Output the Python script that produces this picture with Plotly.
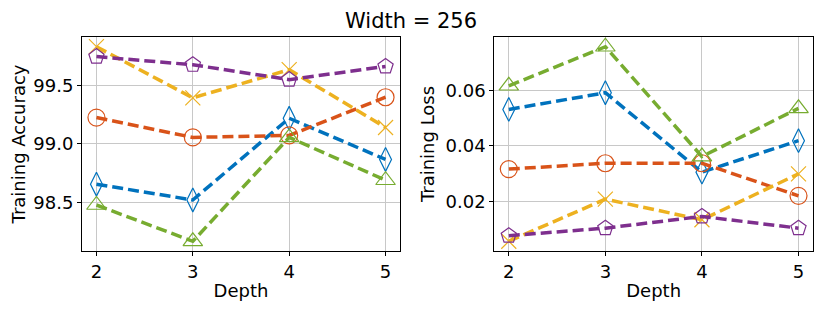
import plotly.graph_objects as go

depth = [2, 3, 4, 5]
series_names = ["blue", "orange", "yellow", "purple", "green"]
acc_blue = [98.655, 98.52, 99.22, 98.867]
acc_orange = [99.226, 99.056, 99.073, 99.40]
acc_yellow = [99.833, 99.395, 99.636, 99.141]
acc_purple = [99.748, 99.678, 99.551, 99.664]
acc_green = [98.477, 98.166, 99.056, 98.689]
loss_blue = [0.0531, 0.0591, 0.0306, 0.0419]
loss_orange = [0.0317, 0.0338, 0.0338, 0.0221]
loss_yellow = [0.0058, 0.0209, 0.0135, 0.0300]
loss_purple = [0.0078, 0.0105, 0.0147, 0.0105]
loss_green = [0.0616, 0.0756, 0.0362, 0.0535]
acc_ticks = [98.5, 99.0, 99.5]
acc_ticklabels = ["98.5", "99.0", "99.5"]
loss_ticks = [0.02, 0.04, 0.06]
loss_ticklabels = ["0.02", "0.04", "0.06"]

colors = {"blue": "#0072BD", "orange": "#D95319", "yellow": "#EDB120",
          "purple": "#7E2F8E", "green": "#77AC30"}
symbols = {"blue": "diamond-tall-open", "orange": "circle-open", "yellow": "x-thin-open",
           "purple": "pentagon-open", "green": "triangle-up-open"}
sizes = {"blue": 17, "orange": 17, "yellow": 15, "purple": 16, "green": 17}
acc = {"blue": acc_blue, "orange": acc_orange, "yellow": acc_yellow,
       "purple": acc_purple, "green": acc_green}
loss = {"blue": loss_blue, "orange": loss_orange, "yellow": loss_yellow,
        "purple": loss_purple, "green": loss_green}

FONT = "DejaVu Sans"
# page body has an 8px margin, so the figure is drawn 8px right and down
W, H = 814, 303

fig = go.Figure()
for panel, data in (("", acc), ("2", loss)):
    for s in series_names:
        fig.add_trace(go.Scatter(
            x=depth, y=data[s], mode="lines+markers",
            xaxis="x" + panel, yaxis="y" + panel, showlegend=False,
            line=dict(color=colors[s], width=3.5, dash="11px,5px"),
            marker=dict(symbol=symbols[s], size=sizes[s], color=colors[s],
                        line=dict(color=colors[s], width=1.2)),
        ))

axis_common = dict(showline=True, mirror=True, linecolor="black", linewidth=1,
                   ticks="outside", ticklen=4, tickcolor="black", tickwidth=1,
                   showgrid=True, gridcolor="#c8c8c8", gridwidth=1, zeroline=False,
                   tickfont=dict(family=FONT, size=18, color="black"))
xcommon = dict(axis_common, range=[1.85, 5.15], tickvals=depth,
               ticktext=[str(d) for d in depth],
               title=dict(text="Depth", font=dict(family=FONT, size=18, color="black"),
                          standoff=3))

ydom = [(H - 243) / H, (H - 29) / H]
fig.update_layout(
    width=W, height=H, margin=dict(l=0, r=0, t=0, b=0),
    paper_bgcolor="white", plot_bgcolor="white",
    xaxis=dict(xcommon, domain=[74 / W, 392 / W], anchor="y"),
    yaxis=dict(axis_common, domain=ydom, anchor="x", range=[98.083, 99.916],
               tickvals=acc_ticks, ticktext=acc_ticklabels,
               title=dict(text="Training Accuracy", font=dict(family=FONT, size=18, color="black"),
                          standoff=6)),
    xaxis2=dict(xcommon, domain=[486.3 / W, 805 / W], anchor="y2"),
    yaxis2=dict(axis_common, domain=ydom, anchor="x2", range=[0.0023, 0.0791],
                tickvals=loss_ticks, ticktext=loss_ticklabels,
                title=dict(text="Training Loss", font=dict(family=FONT, size=18, color="black"),
                           standoff=6)),
    annotations=[dict(text="Width = 256", x=403 / W, y=1, xref="paper", yref="paper",
                      xanchor="center", yanchor="top", showarrow=False, borderpad=0,
                      font=dict(family=FONT, size=21, color="black"))],
)

fig.write_html("out.html")
